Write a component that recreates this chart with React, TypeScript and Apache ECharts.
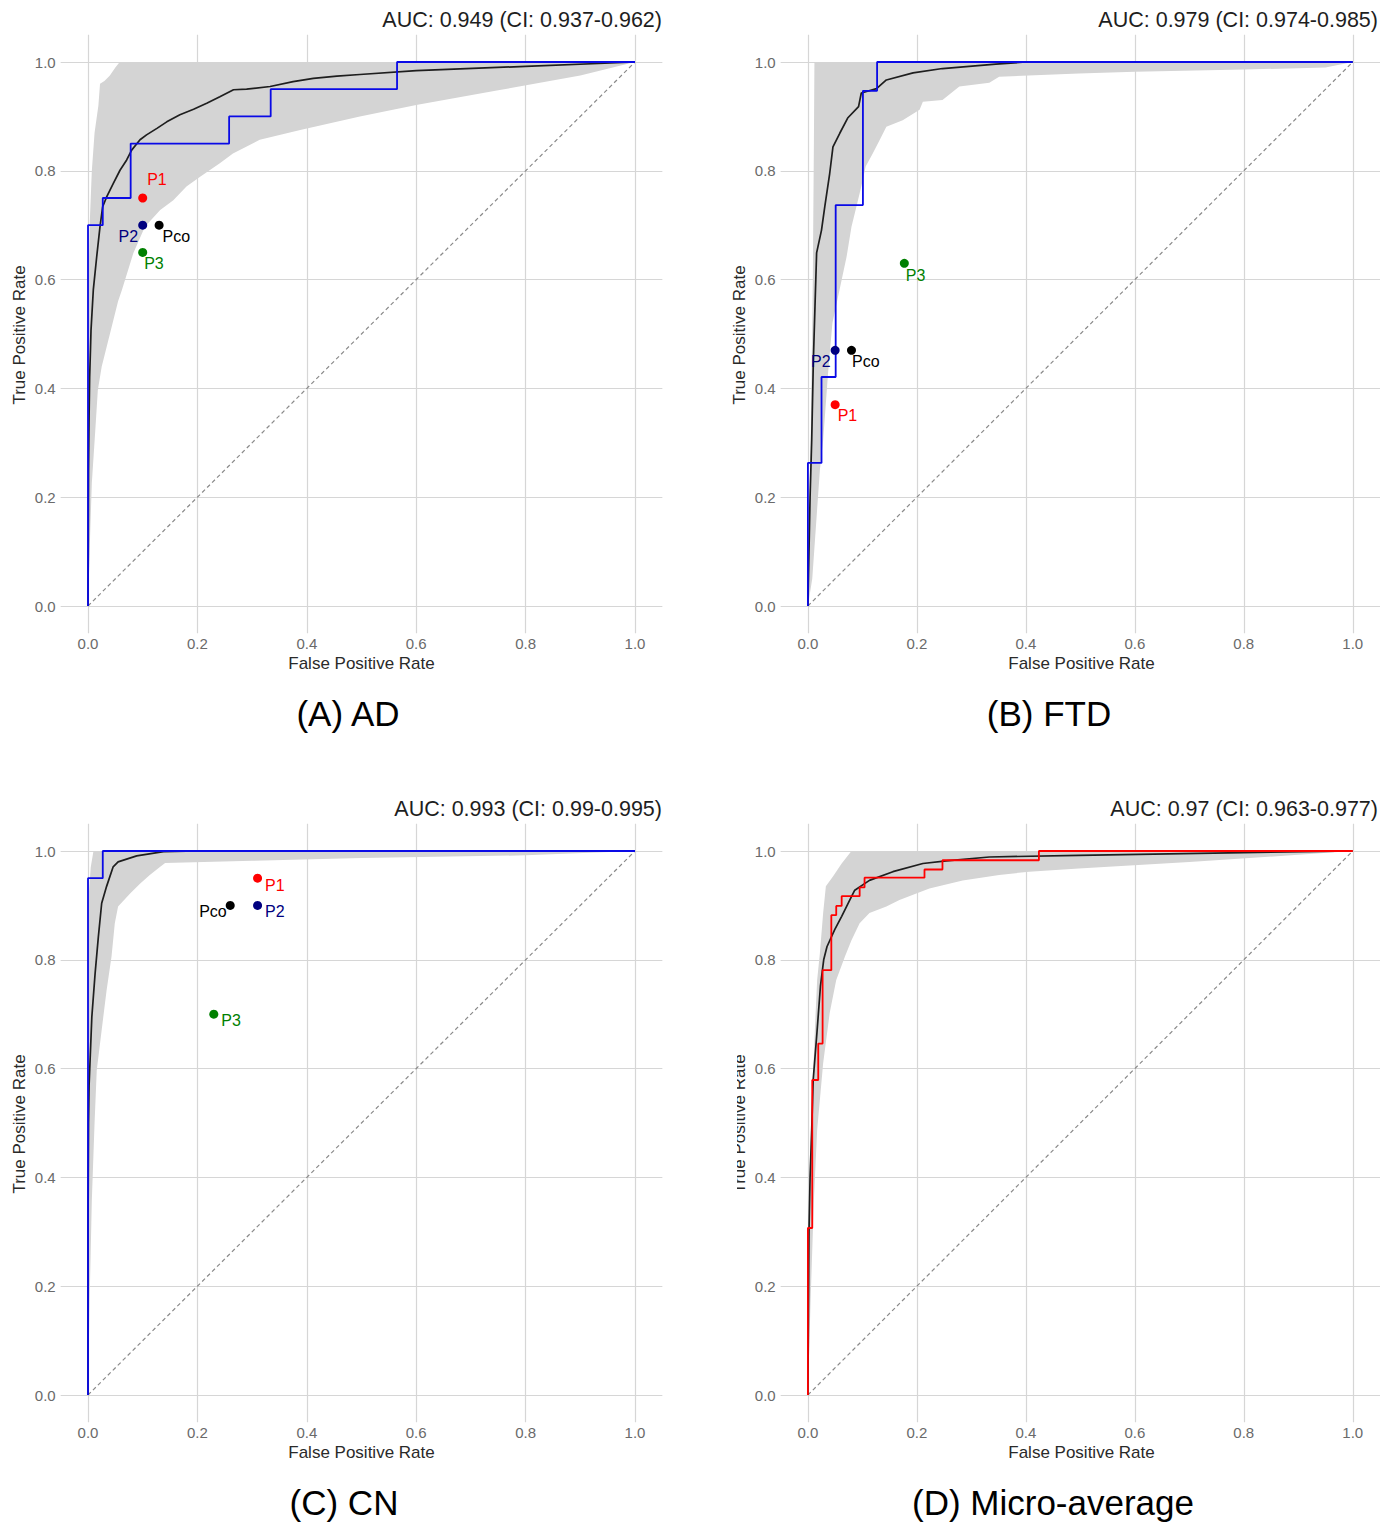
import React, { useEffect, useRef } from "react";
import * as echarts from "echarts";

// ---------- shared ----------
const AXIS_TICKS = [0, 0.2, 0.4, 0.6, 0.8, 1.0];
const POINT_NAMES = ["P1", "P2", "P3", "Pco"];
const CAPTIONS = ["(A) AD", "(B) FTD", "(C) CN", "(D) Micro-average"];
const AUC = [0.949, 0.979, 0.993, 0.97];
const CI_LOW = [0.937, 0.974, 0.99, 0.963];
const CI_HIGH = [0.962, 0.985, 0.995, 0.977];
const DIAG_FPR = [0, 1];
const DIAG_TPR = [0, 1];

// ---------- (A) AD ----------
const A_MEAN_FPR = [0, 0.0005, 0.001, 0.002, 0.003, 0.0045, 0.0055, 0.0097, 0.0159, 0.0219, 0.0268, 0.0341, 0.0463, 0.0585, 0.0707, 0.0798, 0.0951, 0.107, 0.126, 0.144, 0.168, 0.193, 0.217, 0.241, 0.266, 0.29, 0.333, 0.375, 0.412, 0.455, 0.497, 0.6, 0.8, 1.0];
const A_MEAN_TPR = [0, 0.1, 0.25, 0.35, 0.42, 0.47, 0.507, 0.581, 0.642, 0.697, 0.734, 0.752, 0.777, 0.801, 0.82, 0.838, 0.857, 0.866, 0.878, 0.89, 0.903, 0.913, 0.924, 0.936, 0.949, 0.95, 0.955, 0.964, 0.97, 0.974, 0.977, 0.984, 0.992, 1.0];
const A_UPPER_FPR = [0, 0, 0.003, 0.007, 0.012, 0.019, 0.022, 0.03, 0.04, 0.05, 0.058, 1.0];
const A_UPPER_TPR = [0, 0.55, 0.7, 0.8, 0.87, 0.92, 0.96, 0.965, 0.975, 0.99, 1.0, 1.0];
const A_LOWER_FPR = [0, 0.004, 0.007, 0.013, 0.018, 0.025, 0.04, 0.055, 0.062, 0.083, 0.104, 0.132, 0.156, 0.18, 0.205, 0.241, 0.265, 0.314, 0.388, 0.497, 0.6, 0.75, 0.9, 1.0];
const A_LOWER_TPR = [0, 0.134, 0.226, 0.318, 0.397, 0.44, 0.5, 0.56, 0.581, 0.649, 0.697, 0.728, 0.746, 0.771, 0.789, 0.814, 0.832, 0.857, 0.875, 0.9, 0.921, 0.948, 0.975, 1.0];
const A_ROC_FPR = [0, 0, 0.027, 0.078, 0.258, 0.334, 0.565, 1.0];
const A_ROC_TPR = [0, 0.7, 0.75, 0.85, 0.9, 0.95, 1.0, 1.0];
const A_PT_FPR = [0.1, 0.1, 0.1, 0.13];
const A_PT_TPR = [0.75, 0.7, 0.65, 0.7];

// ---------- (B) FTD ----------
const B_MEAN_FPR = [0, 0.002, 0.004, 0.007, 0.01, 0.013, 0.016, 0.025, 0.031, 0.04, 0.046, 0.0585, 0.073, 0.093, 0.098, 0.126, 0.144, 0.193, 0.247, 0.345, 0.4, 1.0];
const B_MEAN_TPR = [0, 0.1, 0.2, 0.305, 0.45, 0.55, 0.649, 0.691, 0.734, 0.795, 0.844, 0.869, 0.897, 0.918, 0.943, 0.951, 0.967, 0.98, 0.988, 0.996, 1.0, 1.0];
const B_UPPER_FPR = [0, 0.002, 0.005, 0.009, 0.011, 0.012, 1.0];
const B_UPPER_TPR = [0, 0.15, 0.3, 0.6, 0.85, 1.0, 1.0];
const B_LOWER_FPR = [0, 0.008, 0.015, 0.022, 0.028, 0.037, 0.045, 0.058, 0.071, 0.08, 0.089, 0.098, 0.106, 0.119, 0.132, 0.144, 0.174, 0.205, 0.211, 0.247, 0.278, 0.333, 0.351, 0.497, 0.6, 0.8, 0.95, 1.0];
const B_LOWER_TPR = [0, 0.05, 0.15, 0.25, 0.305, 0.428, 0.52, 0.581, 0.642, 0.697, 0.734, 0.771, 0.808, 0.832, 0.857, 0.881, 0.893, 0.912, 0.927, 0.93, 0.955, 0.962, 0.973, 0.979, 0.982, 0.986, 0.99, 1.0];
const B_ROC_FPR = [0, 0, 0.025, 0.051, 0.101, 0.127, 1.0];
const B_ROC_TPR = [0, 0.263, 0.421, 0.737, 0.947, 1.0, 1.0];
const B_PT_FPR = [0.05, 0.05, 0.177, 0.08];
const B_PT_TPR = [0.37, 0.47, 0.63, 0.47];

// ---------- (C) CN ----------
const C_MEAN_FPR = [0, 0, 0.001, 0.002, 0.004, 0.007, 0.013, 0.019, 0.025, 0.034, 0.046, 0.055, 0.089, 0.138, 0.2, 1.0];
const C_MEAN_TPR = [0, 0.3, 0.5, 0.57, 0.62, 0.695, 0.775, 0.843, 0.904, 0.935, 0.971, 0.98, 0.991, 0.999, 1.0, 1.0];
const C_UPPER_FPR = [0, 0, 0.005, 0.01, 1.0];
const C_UPPER_TPR = [0, 0.9, 0.97, 1.0, 1.0];
const C_LOWER_FPR = [0, 0.003, 0.007, 0.012, 0.016, 0.025, 0.034, 0.043, 0.049, 0.055, 0.077, 0.095, 0.113, 0.132, 0.141, 0.3, 0.5, 0.8, 1.0];
const C_LOWER_TPR = [0, 0.175, 0.358, 0.5, 0.597, 0.671, 0.744, 0.806, 0.867, 0.898, 0.922, 0.94, 0.956, 0.971, 0.978, 0.982, 0.987, 0.992, 1.0];
const C_ROC_FPR = [0, 0, 0.027, 1.0];
const C_ROC_TPR = [0, 0.95, 1.0, 1.0];
const C_PT_FPR = [0.31, 0.31, 0.23, 0.26];
const C_PT_TPR = [0.95, 0.9, 0.7, 0.9];

// ---------- (D) Micro-average ----------
const D_MEAN_FPR = [0, 0.001, 0.002, 0.004, 0.007, 0.0097, 0.017, 0.023, 0.029, 0.035, 0.049, 0.062, 0.077, 0.086, 0.113, 0.156, 0.211, 0.254, 0.333, 0.497, 0.8, 1.0];
const D_MEAN_TPR = [0, 0.15, 0.3, 0.4, 0.487, 0.579, 0.671, 0.751, 0.8, 0.824, 0.855, 0.88, 0.91, 0.928, 0.946, 0.962, 0.977, 0.982, 0.989, 0.992, 0.997, 1.0];
const D_UPPER_FPR = [0, 0.001, 0.003, 0.006, 0.0128, 0.017, 0.022, 0.028, 0.033, 0.046, 0.062, 0.08, 1.0];
const D_UPPER_TPR = [0, 0.2, 0.4, 0.5, 0.671, 0.763, 0.812, 0.886, 0.935, 0.953, 0.977, 1.0, 1.0];
const D_LOWER_FPR = [0, 0.005, 0.011, 0.017, 0.028, 0.04, 0.052, 0.068, 0.08, 0.095, 0.113, 0.144, 0.168, 0.199, 0.223, 0.284, 0.351, 0.406, 0.497, 0.7, 0.9, 1.0];
const D_LOWER_TPR = [0, 0.175, 0.358, 0.487, 0.61, 0.702, 0.763, 0.806, 0.836, 0.867, 0.886, 0.898, 0.91, 0.922, 0.931, 0.946, 0.956, 0.962, 0.968, 0.98, 0.993, 1.0];
const D_ROC_FPR = [0, 0, 0.008, 0.019, 0.027, 0.043, 0.052, 0.062, 0.095, 0.104, 0.214, 0.247, 0.424, 1.0];
const D_ROC_TPR = [0, 0.307, 0.579, 0.646, 0.781, 0.882, 0.899, 0.917, 0.933, 0.951, 0.966, 0.983, 1.0, 1.0];

// ---------- layout & style (not data) ----------
const FONT = "'Liberation Sans', Arial, Helvetica, sans-serif";
const GRID_LEFT = [60.65, 780.65, 60.65, 780.65];
const GRID_TOP = [34.8, 34.8, 823.8, 823.8];
const GRID_W = 601.7;
const GRID_H = 598.4;
const TITLE_RIGHT = [662, 1378, 662, 1378];
const CAPTION_X = [348, 1049, 344, 1053];
const POINT_COLORS = ["#ff0000", "#000080", "#008000", "#000000"];
const ROC_COLORS = ["#0a0ae6", "#0a0ae6", "#0a0ae6", "#ff0000"];
// [side, distance, dy] per point (P1, P2, P3, Pco)
const LABEL_LAYOUT: any[][] = [
  [["right", 0, -19], ["left", 0, 11], ["right", -3, 11], ["right", -1, 11]],
  [["right", -2, 11], ["left", 0, 11], ["right", -3, 12], ["right", -4, 11]],
  [["right", 3, 7], ["right", 3, 6], ["right", 3, 6], ["left", -1, 6]],
  [],
];

const zip = (xs: number[], ys: number[]) => xs.map((x, i) => [x, ys[i]]);

const PANELS = [
  { meanF: A_MEAN_FPR, meanT: A_MEAN_TPR, upF: A_UPPER_FPR, upT: A_UPPER_TPR, loF: A_LOWER_FPR, loT: A_LOWER_TPR, rocF: A_ROC_FPR, rocT: A_ROC_TPR, ptF: A_PT_FPR, ptT: A_PT_TPR },
  { meanF: B_MEAN_FPR, meanT: B_MEAN_TPR, upF: B_UPPER_FPR, upT: B_UPPER_TPR, loF: B_LOWER_FPR, loT: B_LOWER_TPR, rocF: B_ROC_FPR, rocT: B_ROC_TPR, ptF: B_PT_FPR, ptT: B_PT_TPR },
  { meanF: C_MEAN_FPR, meanT: C_MEAN_TPR, upF: C_UPPER_FPR, upT: C_UPPER_TPR, loF: C_LOWER_FPR, loT: C_LOWER_TPR, rocF: C_ROC_FPR, rocT: C_ROC_TPR, ptF: C_PT_FPR, ptT: C_PT_TPR },
  { meanF: D_MEAN_FPR, meanT: D_MEAN_TPR, upF: D_UPPER_FPR, upT: D_UPPER_TPR, loF: D_LOWER_FPR, loT: D_LOWER_TPR, rocF: D_ROC_FPR, rocT: D_ROC_TPR, ptF: [] as number[], ptT: [] as number[] },
];

function buildOption() {
  const grid: any[] = [];
  const xAxis: any[] = [];
  const yAxis: any[] = [];
  const series: any[] = [];
  const graphic: any[] = [];

  PANELS.forEach((p, i) => {
    grid.push({ left: GRID_LEFT[i], top: GRID_TOP[i], width: GRID_W, height: GRID_H, containLabel: false });
    const axisCommon = {
      type: "value",
      gridIndex: i,
      min: -0.05,
      max: 1.05,
      axisLine: { show: false },
      axisTick: { show: false, customValues: AXIS_TICKS },
      splitLine: { show: true, lineStyle: { color: "#d6d6d6", width: 1.2 } },
    };
    xAxis.push({
      ...axisCommon,
      axisLabel: { customValues: AXIS_TICKS, formatter: (v: number) => v.toFixed(1), color: "#6a6a6a", fontSize: 15, fontFamily: FONT, margin: 3 },
    });
    yAxis.push({
      ...axisCommon,
      axisLabel: { customValues: AXIS_TICKS, formatter: (v: number) => v.toFixed(1), color: "#6a6a6a", fontSize: 15, fontFamily: FONT, margin: 5 },
    });

    const band = zip(p.upF, p.upT).concat(zip(p.loF, p.loT).reverse());
    series.push({
      type: "custom",
      coordinateSystem: "cartesian2d",
      xAxisIndex: i,
      yAxisIndex: i,
      silent: true,
      z: 1,
      data: [[0, 0]],
      renderItem: (_params: any, api: any) => ({
        type: "polygon",
        shape: { points: band.map((pt) => api.coord(pt)) },
        style: { fill: "#d4d4d4" },
      }),
    });
    series.push({
      type: "line",
      xAxisIndex: i,
      yAxisIndex: i,
      data: zip(DIAG_FPR, DIAG_TPR),
      showSymbol: false,
      silent: true,
      z: 2,
      lineStyle: { color: "#8a8a8a", width: 1.2, type: [4, 3] },
    });
    series.push({
      type: "line",
      xAxisIndex: i,
      yAxisIndex: i,
      data: zip(p.meanF, p.meanT),
      showSymbol: false,
      silent: true,
      z: 3,
      lineStyle: { color: "#1e1e1e", width: 1.7 },
    });
    series.push({
      type: "line",
      xAxisIndex: i,
      yAxisIndex: i,
      data: zip(p.rocF, p.rocT),
      step: "end",
      showSymbol: false,
      silent: true,
      z: 4,
      lineStyle: { color: ROC_COLORS[i], width: 1.8 },
    });
    if (p.ptF.length) {
      series.push({
        type: "scatter",
        xAxisIndex: i,
        yAxisIndex: i,
        symbolSize: 9,
        z: 5,
        silent: true,
        data: p.ptF.map((f, k) => {
          const [side, dist, dy] = LABEL_LAYOUT[i][k];
          return {
            value: [f, p.ptT[k]],
            name: POINT_NAMES[k],
            itemStyle: { color: POINT_COLORS[k], opacity: 1 },
            label: {
              show: true,
              formatter: POINT_NAMES[k],
              position: side,
              distance: dist,
              offset: [0, dy],
              color: POINT_COLORS[k],
              fontSize: 16,
              fontFamily: FONT,
            },
          };
        }),
      });
    }

    const x0 = GRID_LEFT[i];
    const y0 = GRID_TOP[i];
    graphic.push({
      type: "text",
      x: TITLE_RIGHT[i],
      y: y0 - 14.8,
      style: { text: `AUC: ${AUC[i]} (CI: ${CI_LOW[i]}-${CI_HIGH[i]})`, fontSize: 21.5, fontFamily: FONT, fill: "#1e1e1e", align: "right", verticalAlign: "middle" },
    });
    graphic.push({
      type: "text",
      x: x0 + GRID_W / 2,
      y: y0 + GRID_H + 30,
      style: { text: "False Positive Rate", fontSize: 17, fontFamily: FONT, fill: "#2a2a2a", align: "center", verticalAlign: "middle" },
    });
    graphic.push({
      type: "text",
      x: x0 - 41.6,
      y: y0 + GRID_H / 2 + 1,
      rotation: Math.PI / 2,
      style: { text: "True Positive Rate", fontSize: 17, fontFamily: FONT, fill: "#2a2a2a", align: "center", verticalAlign: "middle" },
    });
    graphic.push({
      type: "text",
      x: CAPTION_X[i],
      y: y0 + GRID_H + 80,
      style: { text: CAPTIONS[i], fontSize: 35, fontFamily: FONT, fill: "#000000", align: "center", verticalAlign: "middle" },
    });
  });

  // panel D: the y-axis title is half hidden in the reference
  graphic.push({
    type: "rect",
    z: 100,
    shape: { x: 720, y: 1040, width: 17, height: 170 },
    style: { fill: "#ffffff" },
  });

  return {
    animation: false,
    backgroundColor: "#ffffff",
    textStyle: { fontFamily: FONT },
    grid,
    xAxis,
    yAxis,
    series,
    graphic,
  };
}

export default function App() {
  const ref = useRef<HTMLDivElement>(null);
  useEffect(() => {
    if (!ref.current) return;
    const chart = echarts.init(ref.current, undefined, { renderer: "svg" });
    chart.setOption(buildOption() as any);
    return () => chart.dispose();
  }, []);
  return (
    <div
      ref={ref}
      style={{ position: "absolute", left: 0, top: 0, width: 1380, height: 1523, background: "#ffffff" }}
    />
  );
}
